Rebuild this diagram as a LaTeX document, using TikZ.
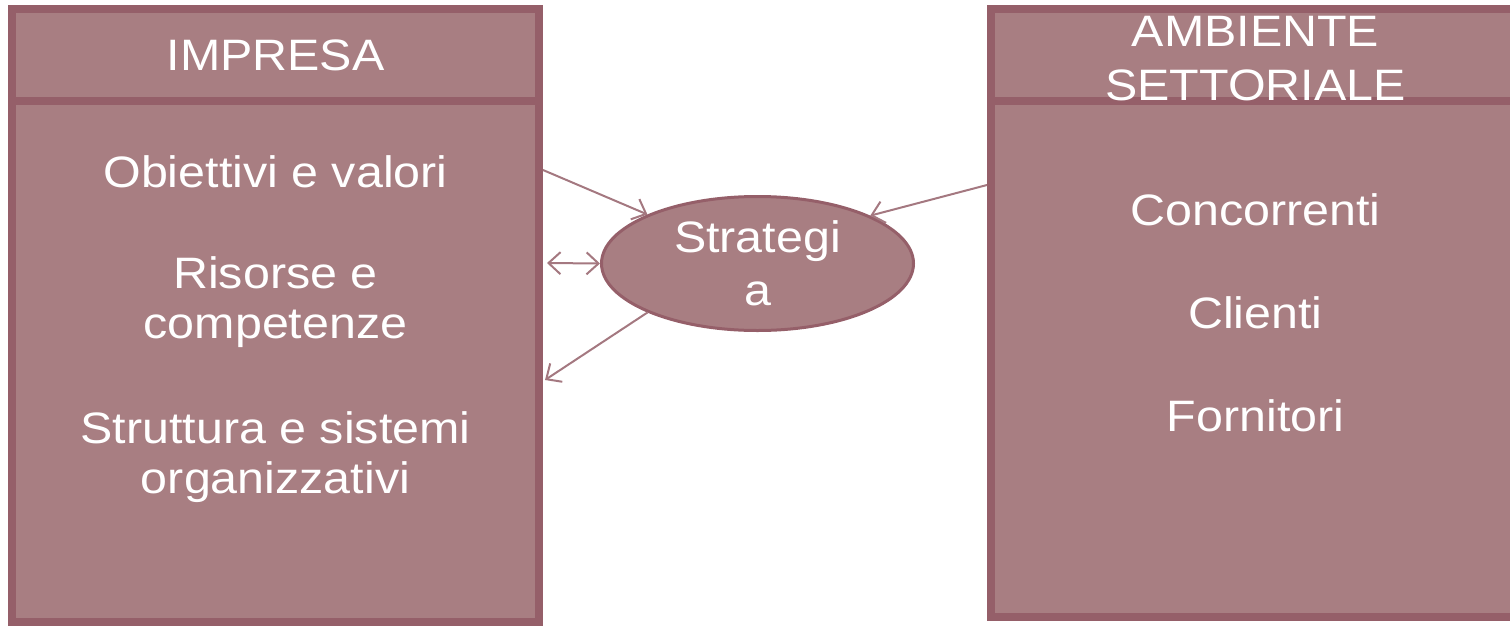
\documentclass[tikz,border=0pt]{standalone}
\usepackage{fontspec}
\setmainfont{Liberation Sans}[FakeStretch=1.1]
\usetikzlibrary{positioning, shapes.geometric, arrows.meta}
\definecolor{boxfill}{HTML}{A87E82}
\definecolor{boxline}{HTML}{955F69}
\definecolor{arrline}{HTML}{A47880}

\begin{document}
\begin{tikzpicture}[
    x=0.5pt, y=-0.5pt,
    node distance=51.5pt,
    on grid,
    every node/.style={text=white, font=\fontsize{22}{25}\selectfont, align=center, inner sep=0pt},
    panel/.style={rectangle, draw=boxline, fill=boxfill, line width=4pt},
    strat/.style={ellipse, draw=boxline, fill=boxfill, line width=1.5pt, minimum width=156pt, minimum height=67pt},
    link/.style={draw=arrline, line width=1pt, -{Straight Barb[length=6pt, width=11pt]}},
    twolink/.style={link, {Straight Barb[length=6pt, width=11pt]}-{Straight Barb[length=6pt, width=11pt]}}
]
\useasboundingbox (0,0) rectangle (1510,627);

   % Panels
   \node[panel, minimum width=263.5pt, minimum height=260.5pt] (impresa) at (275.5,361.5) {};
   \node[panel, minimum width=263.5pt, minimum height=46pt] (impresaHead) at (275.5,55) {IMPRESA};
   \node[panel, minimum width=264.5pt, minimum height=258pt] (ambiente) at (1255.5,359) {};
   \node[panel, minimum width=264.5pt, minimum height=46pt] (ambienteHead) at (1255.5,55) {};
   \node[font=\fontsize{22}{27}\selectfont] (ambienteTitle) at (1255.5,59) {AMBIENTE\\SETTORIALE};

   % Items
   \node (obiettivi) at (275.5,172) {Obiettivi e valori};
   \node (risorse) at (275.5,302) {Risorse e\\competenze};
   \node (struttura) at (275.5,457) {Struttura e sistemi\\organizzativi};
   \node (concorrenti) at (1255.5,210) {Concorrenti};
   \node (clienti) [below=of concorrenti] {Clienti};
   \node (fornitori) [below=of clienti] {Fornitori};

   % Strategia
   \node[strat, font=\fontsize{22}{26.5}\selectfont] (strategia) at (757.5,263.5) {Strategi\\a};

   % Links
   \coordinate (fromObj) at (543,170);
   \coordinate (atRis) at (547,263);
   \coordinate (toStr) at (545,380);
   \coordinate (fromAmb) at (987,185);

   \path[every edge/.append style=link]
   (fromObj) edge (strategia.156)
   (atRis) edge[twolink] (strategia.west)
   (strategia.204) edge (toStr)
   (fromAmb) edge (strategia.23);

\end{tikzpicture}
\end{document}
